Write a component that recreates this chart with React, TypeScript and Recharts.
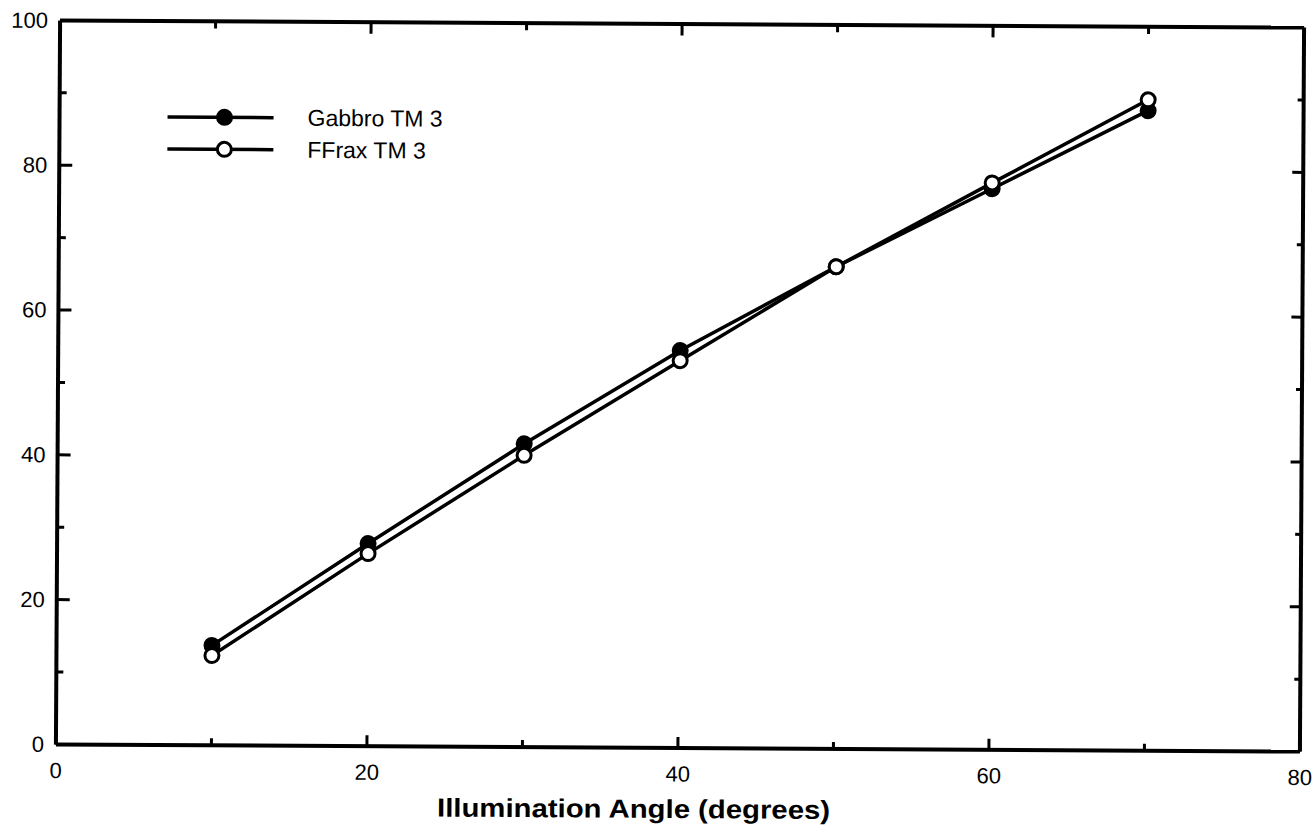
import * as React from "react";
import {Legend, Line, LineChart, ReferenceLine, XAxis, YAxis} from "recharts";

const ANGLES = [10, 20, 30, 40, 50, 60, 70];
const GABBRO = [13.8, 28.0, 41.9, 54.9, 66.6, 77.5, 88.4];
const FFRAX = [12.4, 26.6, 40.3, 53.5, 66.6, 78.3, 89.9];
const X_TICKS = [0, 10, 20, 30, 40, 50, 60, 70, 80];
const Y_TICKS = [0, 10, 20, 30, 40, 50, 60, 70, 80, 90, 100];
const TOP_TICKS = [10, 20, 30, 40, 50, 60, 70];
const SERIES_ORDER = ["gabbro", "ffrax"];
const SERIES_NAMES = {gabbro: "Gabbro TM 3", ffrax: "FFrax TM 3"};
const X_TITLE = "Illumination Angle (degrees)";

const data = ANGLES.map((a, i) => ({angle: a, gabbro: GABBRO[i], ffrax: FFRAX[i]}));

const FONT = "'Liberation Sans', Arial, Helvetica, sans-serif";

function isMajor(v: number) {
    return v % 20 === 0;
}

function LeftTick(props: any) {
    const {x, y, payload} = props;
    const major = isMajor(payload.value);
    return (
        <g>
            <line x1={x} x2={x + (major ? 13 : 7)} y1={y} y2={y} stroke="#000" strokeWidth={3}/>
            {major && <text x={x - 12} y={y} textAnchor="end" dominantBaseline="central"
                            fontSize={22} fontFamily={FONT} fill="#000">{payload.value}</text>}
        </g>
    );
}

function RightTick(props: any) {
    const {x, y, payload} = props;
    const major = isMajor(payload.value);
    return <line x1={x} x2={x - (major ? 11 : 6)} y1={y} y2={y} stroke="#000" strokeWidth={3}/>;
}

function BottomTick(props: any) {
    const {x, y, payload} = props;
    const major = isMajor(payload.value);
    return (
        <g>
            <line x1={x} x2={x} y1={y} y2={y - (major ? 11 : 7)} stroke="#000" strokeWidth={3}/>
            {major && <text x={x} y={y + 26} textAnchor="middle" dominantBaseline="central"
                            fontSize={22} fontFamily={FONT} fill="#000">{payload.value}</text>}
        </g>
    );
}

function TopTickShape(props: any) {
    // draw the segment handed over by ReferenceLine as a plain line
    const {x1, y1, x2, y2} = props;
    return <line x1={x1} y1={y1} x2={x2} y2={y2} stroke="#000" strokeWidth={3}/>;
}

function LegendBox(props: any) {
    const entries = [...(props.payload || [])].sort(
        (a: any, b: any) => SERIES_ORDER.indexOf(a.dataKey) - SERIES_ORDER.indexOf(b.dataKey));
    return (
        <svg width={300} height={70}>
            {entries.map((entry: any, i: number) => {
                const y = 13 + i * 32;
                const filled = entry.dataKey === "gabbro";
                return (
                    <g key={entry.dataKey}>
                        <line x1={6} x2={112} y1={y} y2={y} stroke="#000" strokeWidth={3.5}/>
                        <circle cx={63} cy={y} r={filled ? 7.5 : 7} fill={filled ? "#000" : "#fff"}
                                stroke="#000" strokeWidth={filled ? 2 : 3}/>
                        <text x={146} y={y} dominantBaseline="central" fontSize={23}
                              fontFamily={FONT} fill="#000">{entry.value}</text>
                    </g>
                );
            })}
        </svg>
    );
}

function XTitle(props: any) {
    const {viewBox} = props;
    return (
        <text x={viewBox.x + viewBox.width / 2 - 44} y={viewBox.y + 70} textAnchor="middle"
              fontSize={26} fontWeight="bold" fontFamily={FONT} fill="#000"
              textLength={393} lengthAdjust="spacingAndGlyphs">{X_TITLE}</text>
    );
}

const AXIS_LINE = {stroke: "#000", strokeWidth: 4};

export default function App() {
    return (
        <div style={{
            position: "absolute", left: 0, top: 0, width: 1315, height: 830, background: "#fff",
            transform: "rotate(0.33deg)", transformOrigin: "680px 386.5px", fontFamily: FONT
        }}>
            <LineChart width={1315} height={830} data={data}
                       margin={{top: 23, right: 12, bottom: 0, left: 0}}>
                <XAxis xAxisId="top" orientation="top" type="number" scale="linear" domain={[0, 80]}
                       allowDataOverflow ticks={X_TICKS} interval={0} height={1} tickSize={0}
                       tickMargin={0} tickLine={false} axisLine={AXIS_LINE} tick={false}/>
                <YAxis yAxisId="right" orientation="right" type="number" domain={[0, 100]} allowDataOverflow
                       ticks={Y_TICKS} interval={0} width={1} tickSize={0} tickMargin={0} tickLine={false}
                       axisLine={AXIS_LINE} tick={(p: any) => <RightTick {...p}/>}/>
                <XAxis type="number" dataKey="angle" domain={[0, 80]} ticks={X_TICKS} interval={0}
                       height={82} tickSize={0} tickMargin={0} tickLine={false}
                       axisLine={AXIS_LINE} tick={(p: any) => <BottomTick {...p}/>}
                       label={{content: (p: any) => <XTitle {...p}/>}}/>
                <YAxis type="number" domain={[0, 100]} ticks={Y_TICKS} interval={0} width={58}
                       tickSize={0} tickMargin={0} tickLine={false}
                       axisLine={AXIS_LINE} tick={(p: any) => <LeftTick {...p}/>}/>
                {TOP_TICKS.map((t) => (
                    <ReferenceLine key={t} segment={[{x: t, y: 100}, {x: t, y: isMajor(t) ? 98.4 : 99.0}]}
                                   ifOverflow="visible" stroke="#000" strokeWidth={3}
                                   shape={(p: any) => <TopTickShape {...p}/>}/>
                ))}
                <Legend verticalAlign="middle" align="center" content={(p: any) => <LegendBox {...p}/>}
                        wrapperStyle={{left: 160, top: 107, width: 300, height: 70}}/>
                <Line type="linear" dataKey="gabbro" name={SERIES_NAMES.gabbro} stroke="#000" strokeWidth={3.5}
                      dot={{r: 7.5, fill: "#000", stroke: "#000", strokeWidth: 2}} isAnimationActive={false}/>
                <Line type="linear" dataKey="ffrax" name={SERIES_NAMES.ffrax} stroke="#000" strokeWidth={3.5}
                      dot={{r: 7, fill: "#fff", stroke: "#000", strokeWidth: 3}} isAnimationActive={false}/>
            </LineChart>
        </div>
    );
}
